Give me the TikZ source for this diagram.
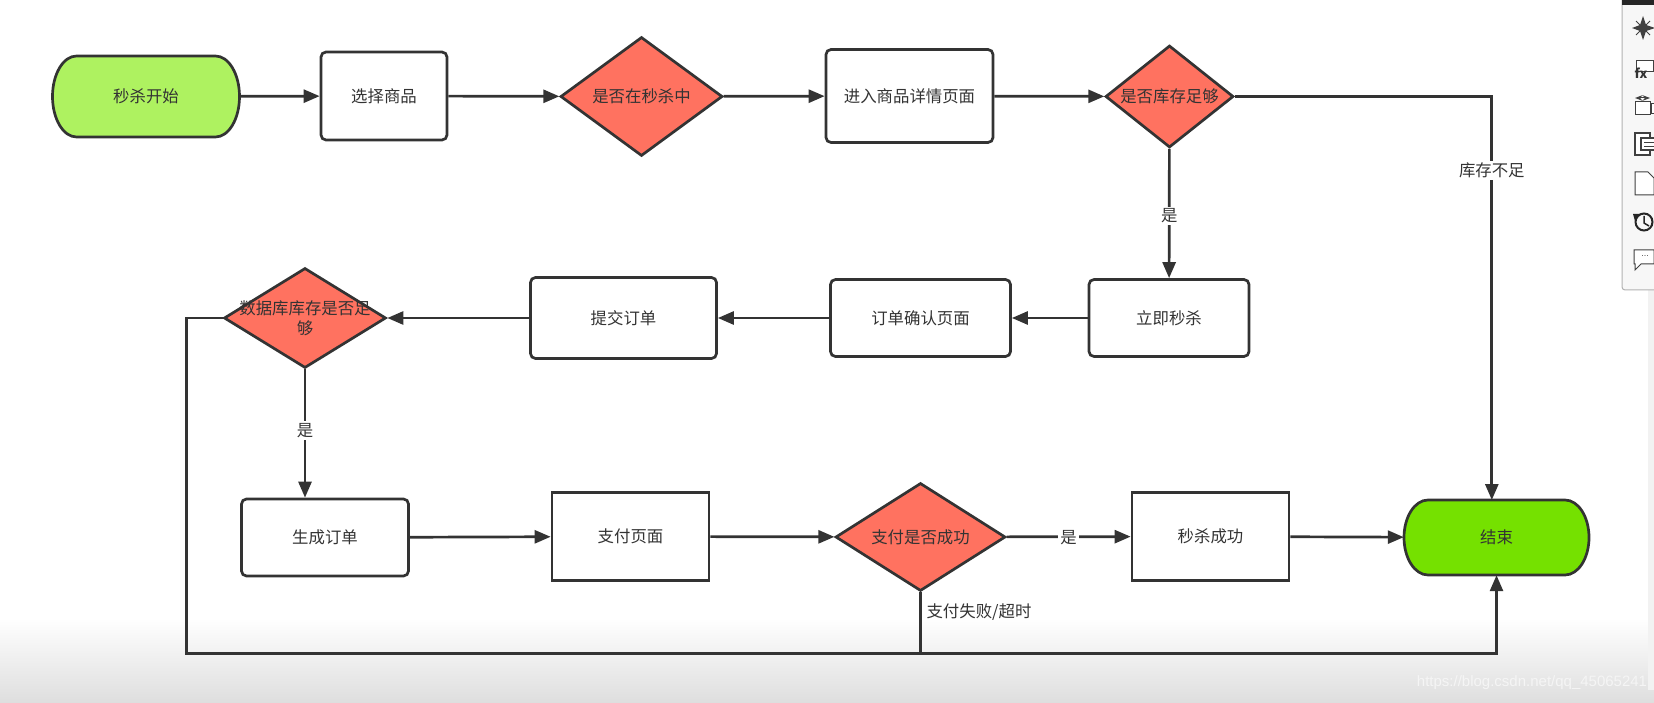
\documentclass[tikz,border=0pt]{standalone}
\usepackage{fontspec}
\setmainfont{Noto Sans CJK SC}
\setsansfont{Liberation Sans}
\usetikzlibrary{arrows.meta,shapes.geometric}
\definecolor{linegray}{HTML}{333333}
\definecolor{startgreen}{HTML}{AEF260}
\definecolor{endgreen}{HTML}{75E100}
\definecolor{decred}{HTML}{FF7260}
\tikzset{
  proc node/.style={rectangle,draw=linegray,fill=white,line width=2.7pt,rounded corners=5pt,inner sep=0pt,text=linegray},
  plain node/.style={proc node,rounded corners=0pt},
  term node/.style={rectangle,inner sep=0pt,text=linegray},
  dec node/.style={diamond,aspect=1.5,draw=linegray,fill=decred,line width=2.7pt,inner sep=0pt,text=linegray},
  tag node/.style={fill=white,inner sep=2pt,text=linegray,yshift=-1pt},
  conn/.style={draw=linegray,line width=2.7pt,-{Triangle[length=16pt,width=13pt]}},
  icon/.style={draw=black!75,line width=1pt,fill=white}
}
% outline of a terminal: centre x, centre y, half width, half height, colour
\newcommand{\termback}[5]{\filldraw[draw=linegray,fill=#5,line width=2.7pt] (#1-#3+24,#2-#4) -- (#1+#3-24,#2-#4) arc[start angle=90,end angle=-90,x radius=24pt,y radius=#4pt] -- (#1-#3+24,#2+#4) arc[start angle=-90,end angle=-270,x radius=24pt,y radius=#4pt] -- cycle;}
\begin{document}
\begin{tikzpicture}[x=1pt,y=-1pt,font=\fontsize{16.4}{20}\selectfont]
\useasboundingbox (0,0) rectangle (1654,703);
\clip (0,0) rectangle (1654,703);
\fill[white] (0,0) rectangle (1654,703);
\shade[top color=white,bottom color=black!13] (0,618) rectangle (1654,703);
\fill[black!5] (1648,290) rectangle (1654,690);
% toolbar at the right edge
\filldraw[draw=black!30,fill=black!3,line width=1pt,rounded corners=3pt] (1622,-5) rectangle (1670,290);
\fill[black!85] (1622,0) rectangle (1654,5);
\fill[black!75] (1643,16) -- (1646,25) -- (1655,28) -- (1646,31) -- (1643,40) -- (1640,31) -- (1632,28) -- (1640,25) -- cycle;
\draw[black!75,line width=1pt] (1636,21) -- (1650,35) (1650,21) -- (1636,35);
\draw[icon] (1636,61) rectangle (1653,72);
\node[inner sep=0pt,text=black!80] (fxicon) at (1641,73) {\fontsize{13}{13}\selectfont\itshape\bfseries fx};
\draw[icon] (1635,102) rectangle (1650,115);
\draw[icon,<->,>=Stealth] (1635,98) -- (1650,98);
\draw[icon] (1651,104) rectangle (1656,114);
\draw[icon,line width=1.3pt] (1635,133) rectangle (1650,155);
\draw[icon,line width=1.3pt] (1641,138) rectangle (1656,150);
\draw[icon,line width=.8pt] (1644,142) -- (1654,142) (1644,146) -- (1654,146);
\draw[icon] (1635,172) -- (1648,172) -- (1654,178) -- (1654,195) -- (1635,195) -- cycle;
\draw[draw=black!85,line width=2pt] (1644,222) circle (8.5);
\draw[draw=black!85,line width=1.5pt] (1644,216) -- (1644,223) -- (1649,226);
\fill[black!85] (1633,214) -- (1640,214) -- (1635,221) -- cycle;
\draw[icon] (1634,250) -- (1654,250) -- (1654,264) -- (1641,264) -- (1635,270) -- (1635,264) -- (1634,264) -- cycle;
\node[inner sep=0pt,text=black!70] (dots) at (1645,256) {\fontsize{9}{9}\selectfont\sffamily...};
% flow
\termback{146}{96.5}{93.5}{40.5}{startgreen}
\termback{1496.5}{537.5}{92.5}{37.5}{endgreen}
\node[term node,minimum width=187pt,minimum height=81pt] (start) at (146,96.5) {秒杀开始};
\node[proc node,minimum width=126pt,minimum height=88pt] (select) at (384,96) {选择商品};
\node[dec node,minimum width=162pt,minimum height=119pt] (check1) at (641.5,96.5) {是否在秒杀中};
\node[proc node,minimum width=167pt,minimum height=93pt] (detail) at (909.5,96) {进入商品详情页面};
\node[dec node,minimum width=128pt,minimum height=102pt] (check2) at (1169.5,96.5) {是否库存足够};
\node[proc node,minimum width=160pt,minimum height=77pt] (buy) at (1169,318) {立即秒杀};
\node[proc node,minimum width=180pt,minimum height=77pt] (confirm) at (920.5,318) {订单确认页面};
\node[proc node,minimum width=186pt,minimum height=81pt] (submit) at (623.5,318) {提交订单};
\node[dec node,minimum width=162pt,minimum height=100pt,label={[align=center,text=linegray,inner sep=0pt]center:数据库库存是否足\\够}] (check3) at (305,318) {};
\node[proc node,minimum width=167pt,minimum height=77pt] (order) at (325,537.5) {生成订单};
\node[plain node,minimum width=157pt,minimum height=88pt] (pay) at (630.5,536.5) {支付页面};
\node[dec node,minimum width=170pt,minimum height=108pt] (check4) at (920.5,537) {支付是否成功};
\node[plain node,minimum width=157pt,minimum height=88pt] (success) at (1210.5,536.5) {秒杀成功};
\node[term node,minimum width=185pt,minimum height=75pt] (finish) at (1496.5,537.5) {结束};
\coordinate (cleft) at (186.7,653.5);
\coordinate (cin) at (1491.8,500);
\coordinate (cjoin) at (check4 |- cleft);
\draw[conn] (start) -- (select);
\draw[conn] (select) -- (check1);
\draw[conn] (check1) -- (detail);
\draw[conn] (detail) -- (check2);
\draw[conn] (check2) -- node[tag node,pos=.51]{是} (buy);
\draw[conn] (buy) -- (confirm);
\draw[conn] (confirm) -- (submit);
\draw[conn] (submit) -- (check3);
\draw[conn] (check3.south) -- node[tag node,pos=.47]{是} (check3.south |- order.north);
\draw[conn] (order) -- (pay);
\draw[conn] (pay) -- (check4);
\draw[conn] (check4) -- node[tag node,pos=.5]{是} (success);
\draw[conn] (success) -- (finish);
\draw[conn] (check2.east) -| node[tag node,pos=.59]{库存不足} (cin);
\draw[conn] (check3.west) -| (cleft) -| (finish.south);
\draw[draw=linegray,line width=2.7pt] (check4.south) -- (cjoin);
\node[text=linegray,inner sep=0pt] (failtag) at (979,612) {支付失败/超时};
\node[text=black!4,inner sep=0pt] (mark) at (1532,683) {\fontsize{15}{15}\selectfont\sffamily https://blog.csdn.net/qq\_45065241};
\end{tikzpicture}
\end{document}
